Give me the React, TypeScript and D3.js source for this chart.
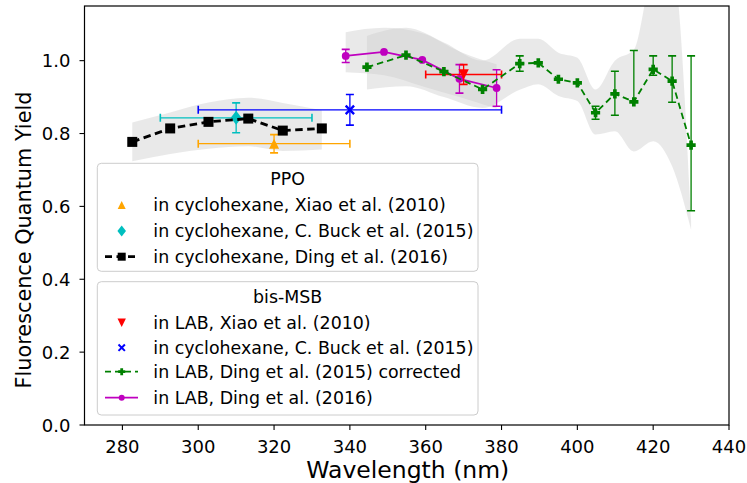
import React from 'react';
import * as d3 from 'd3';

const xTicks = [280, 300, 320, 340, 360, 380, 400, 420, 440];
const yTicks = [0.0, 0.2, 0.4, 0.6, 0.8, 1.0];

// PPO, Ding et al. (2016)
const ppoDingX = [282.6, 292.6, 302.7, 313.2, 322.3, 332.6];
const ppoDingY = [0.777, 0.814, 0.832, 0.841, 0.808, 0.814];
const ppoBandX = [282.6, 292.6, 302.7, 313.2, 322.3, 332.6];
const ppoBandLo = [0.724, 0.744, 0.758, 0.765, 0.752, 0.756];
const ppoBandHi = [0.83, 0.858, 0.885, 0.898, 0.884, 0.864];

// PPO, Xiao (2010)
const ppoXiaoX = [320];
const ppoXiaoY = [0.772];
const ppoXiaoXErr = [20];
const ppoXiaoYErr = [0.025];

// PPO, Buck (2015)
const ppoBuckX = [310];
const ppoBuckY = [0.843];
const ppoBuckXErr = [20];
const ppoBuckYErr = [0.041];

// bis-MSB, Xiao (2010)
const msbXiaoX = [370];
const msbXiaoY = [0.962];
const msbXiaoXErr = [10];
const msbXiaoYErr = [0.027];

// bis-MSB, Buck (2015)
const msbBuckX = [340];
const msbBuckY = [0.865];
const msbBuckXErr = [40];
const msbBuckYErr = [0.042];

// bis-MSB, Ding (2015) corrected
const msbD15X = [344.5, 354.8, 364.8, 375, 384.8, 389.7, 395, 400, 404.8, 409.9, 414.9, 420, 425, 430];
const msbD15Y = [0.982, 1.015, 0.97, 0.921, 0.992, 0.994, 0.949, 0.939, 0.857, 0.909, 0.887, 0.976, 0.944, 0.768];
const msbD15Lo = [null, null, null, null, 0.971, null, null, null, 0.839, 0.85, 0.887, 0.96, 0.886, 0.588];
const msbD15Hi = [null, null, null, null, 1.013, null, null, null, 0.875, 0.971, 1.028, 1.013, 1.013, 1.013];
const msbD15BandX = [344.5, 354.8, 364.8, 375, 384.8, 389.7, 395, 400, 404.8, 409.9, 414.9, 420, 425, 430];
const msbD15BandLo = [0.921, 0.93, 0.9, 0.87, 0.92, 0.935, 0.903, 0.889, 0.797, 0.806, 0.751, 0.779, 0.71, 0.536];
const msbD15BandHi = [1.068, 1.09, 1.05, 1.0, 1.06, 1.06, 1.022, 1.008, 0.921, 1.0, 1.03, 1.24, 1.26, 0.56];

// bis-MSB, Ding (2016)
const msbD16X = [338.9, 349, 359.1, 368.9, 378.7];
const msbD16Y = [1.013, 1.024, 1.002, 0.95, 0.925];
const msbD16YErr = [0.018, 0, 0, 0.039, 0.05];
const msbD16BandLo = [0.968, 0.96, 0.93, 0.9, 0.868];
const msbD16BandHi = [1.078, 1.09, 1.075, 1.025, 0.99];

const W = 747;
const H = 483;
const L = 84.5, R = 729, T = 6, B = 425;
const x = d3.scaleLinear().domain([270, 440]).range([L, R]);
const y = d3.scaleLinear().domain([0, 1.15]).range([B, T]);

const FONT = 'DejaVu Sans, sans-serif';
const C = {
  orange: '#ffa500', cyan: '#00bfbf', black: '#000000', red: '#ff0000',
  blue: '#0000ff', green: '#008000', magenta: '#bf00bf',
};

function triUp(cx: number, cy: number, r: number) {
  return `M${cx},${cy - r}L${cx - r},${cy + r}L${cx + r},${cy + r}Z`;
}
function triDown(cx: number, cy: number, r: number) {
  return `M${cx},${cy + r}L${cx - r},${cy - r}L${cx + r},${cy - r}Z`;
}
function diamond(cx: number, cy: number, r: number) {
  return `M${cx},${cy - r}L${cx + r * 0.78},${cy}L${cx},${cy + r}L${cx - r * 0.78},${cy}Z`;
}
function plusFilled(cx: number, cy: number, r: number) {
  const a = r * 0.4;
  return `M${cx - a},${cy - r}H${cx + a}V${cy - a}H${cx + r}V${cy + a}H${cx + a}V${cy + r}H${cx - a}V${cy + a}H${cx - r}V${cy - a}H${cx - a}Z`;
}

function VErr({ cx, y0, y1, color, cap = 4, w = 1.3 }: any) {
  return (
    <g stroke={color} strokeWidth={w}>
      <line x1={cx} x2={cx} y1={y0} y2={y1} />
      <line x1={cx - cap} x2={cx + cap} y1={y0} y2={y0} strokeWidth={w + 0.3} />
      <line x1={cx - cap} x2={cx + cap} y1={y1} y2={y1} strokeWidth={w + 0.3} />
    </g>
  );
}
function HErr({ cy, x0, x1, color, cap = 4, w = 1.3 }: any) {
  return (
    <g stroke={color} strokeWidth={w}>
      <line x1={x0} x2={x1} y1={cy} y2={cy} />
      <line x1={x0} x2={x0} y1={cy - cap} y2={cy + cap} strokeWidth={w + 0.3} />
      <line x1={x1} x2={x1} y1={cy - cap} y2={cy + cap} strokeWidth={w + 0.3} />
    </g>
  );
}

export default function App() {
  const band = d3
    .area<any>()
    .x((d) => x(d[0]))
    .y0((d) => y(d[1]))
    .y1((d) => y(d[2]))
    .curve(d3.curveMonotoneX);
  const line = d3
    .line<any>()
    .x((d) => x(d[0]))
    .y((d) => y(d[1]));

  const ppoBand = ppoBandX.map((v, i) => [v, ppoBandLo[i], ppoBandHi[i]]);
  const d15Band = msbD15BandX.map((v, i) => [v, msbD15BandLo[i], msbD15BandHi[i]]);
  const d16Band = msbD16X.map((v, i) => [v, msbD16BandLo[i], msbD16BandHi[i]]);
  const bandFill = '#cfcfcf';
  const bandOp = 0.45;

  const legendFont = 17.4;
  const lx = 97.3, lw = 380.7;

  return (
    <svg width={W} height={H} style={{ position: 'absolute', left: 0, top: 0, background: '#fff' }} fontFamily={FONT}>
      <defs>
        <clipPath id="plot">
          <rect x={L} y={T} width={R - L} height={B - T} />
        </clipPath>
      </defs>
      <rect x={0} y={0} width={W} height={H} fill="#fff" />
      <g clipPath="url(#plot)">
        <path d={band(ppoBand) || ''} fill={bandFill} opacity={bandOp} />
        <path d={band(d16Band) || ''} fill={bandFill} opacity={bandOp} />
        <path d={band(d15Band) || ''} fill={bandFill} opacity={bandOp} />

        {/* PPO Xiao */}
        {ppoXiaoX.map((v, i) => (
          <g key={'px' + i}>
            <HErr cy={y(ppoXiaoY[i])} x0={x(v - ppoXiaoXErr[i])} x1={x(v + ppoXiaoXErr[i])} color={C.orange} />
            <VErr cx={x(v)} y0={y(ppoXiaoY[i] - ppoXiaoYErr[i])} y1={y(ppoXiaoY[i] + ppoXiaoYErr[i])} color={C.orange} />
            <path d={triUp(x(v), y(ppoXiaoY[i]), 5)} fill={C.orange} />
          </g>
        ))}
        {/* PPO Buck */}
        {ppoBuckX.map((v, i) => (
          <g key={'pb' + i}>
            <HErr cy={y(ppoBuckY[i])} x0={x(v - ppoBuckXErr[i])} x1={x(v + ppoBuckXErr[i])} color={C.cyan} />
            <VErr cx={x(v)} y0={y(ppoBuckY[i] - ppoBuckYErr[i])} y1={y(ppoBuckY[i] + ppoBuckYErr[i])} color={C.cyan} />
            <path d={diamond(x(v), y(ppoBuckY[i]), 7)} fill={C.cyan} />
          </g>
        ))}
        {/* PPO Ding 2016 */}
        <path
          d={line(ppoDingX.map((v, i) => [v, ppoDingY[i]])) || ''}
          fill="none"
          stroke={C.black}
          strokeWidth={2.8}
          strokeDasharray="7.5,4.5"
        />
        {ppoDingX.map((v, i) => (
          <rect key={'pd' + i} x={x(v) - 5} y={y(ppoDingY[i]) - 5} width={10} height={10} fill={C.black} />
        ))}

        {/* bis-MSB Buck */}
        {msbBuckX.map((v, i) => {
          const cx = x(v), cy = y(msbBuckY[i]);
          return (
            <g key={'mb' + i}>
              <HErr cy={cy} x0={x(v - msbBuckXErr[i])} x1={x(v + msbBuckXErr[i])} color={C.blue} />
              <VErr cx={cx} y0={y(msbBuckY[i] - msbBuckYErr[i])} y1={y(msbBuckY[i] + msbBuckYErr[i])} color={C.blue} />
              <path d={`M${cx - 4.2},${cy - 4.2}L${cx + 4.2},${cy + 4.2}M${cx - 4.2},${cy + 4.2}L${cx + 4.2},${cy - 4.2}`} stroke={C.blue} strokeWidth={2.4} />
            </g>
          );
        })}

        {/* bis-MSB Ding 2016 */}
        {msbD16X.map((v, i) =>
          msbD16YErr[i] > 0 ? (
            <VErr key={'m16e' + i} cx={x(v)} y0={y(msbD16Y[i] - msbD16YErr[i])} y1={y(msbD16Y[i] + msbD16YErr[i])} color={C.magenta} />
          ) : null
        )}
        <path d={line(msbD16X.map((v, i) => [v, msbD16Y[i]])) || ''} fill="none" stroke={C.magenta} strokeWidth={1.7} />
        {msbD16X.map((v, i) => (
          <circle key={'m16' + i} cx={x(v)} cy={y(msbD16Y[i])} r={3.9} fill={C.magenta} />
        ))}

        {/* bis-MSB Xiao */}
        {msbXiaoX.map((v, i) => (
          <g key={'mx' + i}>
            <HErr cy={y(msbXiaoY[i])} x0={x(v - msbXiaoXErr[i])} x1={x(v + msbXiaoXErr[i])} color={C.red} />
            <VErr cx={x(v)} y0={y(msbXiaoY[i] - msbXiaoYErr[i])} y1={y(msbXiaoY[i] + msbXiaoYErr[i])} color={C.red} />
            <path d={triDown(x(v), y(msbXiaoY[i]), 5.2)} fill={C.red} />
          </g>
        ))}

        {/* bis-MSB Ding 2015 corrected */}
        {msbD15X.map((v, i) =>
          msbD15Lo[i] != null ? (
            <VErr key={'m15e' + i} cx={x(v)} y0={y(msbD15Lo[i] as number)} y1={y(msbD15Hi[i] as number)} color={C.green} />
          ) : null
        )}
        <path
          d={line(msbD15X.map((v, i) => [v, msbD15Y[i]])) || ''}
          fill="none"
          stroke={C.green}
          strokeWidth={1.8}
          strokeDasharray="6.5,4"
        />
        {msbD15X.map((v, i) => (
          <path key={'m15' + i} d={plusFilled(x(v), y(msbD15Y[i]), 4.6)} fill={C.green} />
        ))}
      </g>

      {/* axes */}
      <rect x={L} y={T} width={R - L} height={B - T} fill="none" stroke="#000" strokeWidth={1.2} />
      {xTicks.map((t) => (
        <g key={'xt' + t}>
          <line x1={x(t)} x2={x(t)} y1={B} y2={B + 5} stroke="#000" strokeWidth={1.1} />
          <text x={x(t)} y={B + 28} textAnchor="middle" fontSize={18} fill="#000">
            {t}
          </text>
        </g>
      ))}
      {yTicks.map((t) => (
        <g key={'yt' + t}>
          <line x1={L - 5} x2={L} y1={y(t)} y2={y(t)} stroke="#000" strokeWidth={1.1} />
          <text x={L - 14} y={y(t) + 6.5} textAnchor="end" fontSize={18} fill="#000">
            {t.toFixed(1)}
          </text>
        </g>
      ))}
      <text x={(L + R) / 2 + 1} y={478} textAnchor="middle" fontSize={23.5} fill="#000">
        Wavelength (nm)
      </text>
      <text transform={`translate(31,240) rotate(-90)`} textAnchor="middle" fontSize={20.8} fill="#000">
        Fluorescence Quantum Yield
      </text>

      {/* legend 1 */}
      <g fontSize={legendFont}>
        <rect x={lx} y={163.3} width={lw} height={108} rx={4} fill="#fff" fillOpacity={0.8} stroke="#cccccc" strokeWidth={1} />
        <text x={lx + lw / 2} y={178 + 6.5} textAnchor="middle">PPO</text>
        <path d={triUp(121.7, 205, 4)} fill={C.orange} />
        <text x={153.3} y={205 + 6}>in cyclohexane, Xiao et al. (2010)</text>
        <path d={diamond(121.7, 231, 5.5)} fill={C.cyan} />
        <text x={153.3} y={231 + 6}>in cyclohexane, C. Buck et al. (2015)</text>
        <line x1={105} x2={138} y1={256.7} y2={256.7} stroke={C.black} strokeWidth={2.8} strokeDasharray="7,4.5" />
        <rect x={121.7 - 4} y={256.7 - 4} width={8} height={8} fill={C.black} />
        <text x={153.3} y={256.7 + 6}>in cyclohexane, Ding et al. (2016)</text>
      </g>

      {/* legend 2 */}
      <g fontSize={legendFont}>
        <rect x={lx} y={281.7} width={lw} height={133.3} rx={4} fill="#fff" fillOpacity={0.8} stroke="#cccccc" strokeWidth={1} />
        <text x={lx + lw / 2} y={296.7 + 6.5} textAnchor="middle">bis-MSB</text>
        <path d={triDown(121.7, 322.7, 4.2)} fill={C.red} />
        <text x={153.3} y={322.7 + 6}>in LAB, Xiao et al. (2010)</text>
        <path d={`M${118.5},${344.5}L${124.9},${350.9}M${118.5},${350.9}L${124.9},${344.5}`} stroke={C.blue} strokeWidth={2} />
        <text x={153.3} y={347.7 + 6}>in cyclohexane, C. Buck et al. (2015)</text>
        <line x1={105} x2={138} y1={371.7} y2={371.7} stroke={C.green} strokeWidth={1.8} strokeDasharray="6,4" />
        <path d={plusFilled(121.7, 371.7, 3.5)} fill={C.green} />
        <text x={153.3} y={371.7 + 6}>in LAB, Ding et al. (2015) corrected</text>
        <line x1={105} x2={138} y1={397.7} y2={397.7} stroke={C.magenta} strokeWidth={1.7} />
        <circle cx={121.7} cy={397.7} r={3} fill={C.magenta} />
        <text x={153.3} y={397.7 + 6}>in LAB, Ding et al. (2016)</text>
      </g>
    </svg>
  );
}
